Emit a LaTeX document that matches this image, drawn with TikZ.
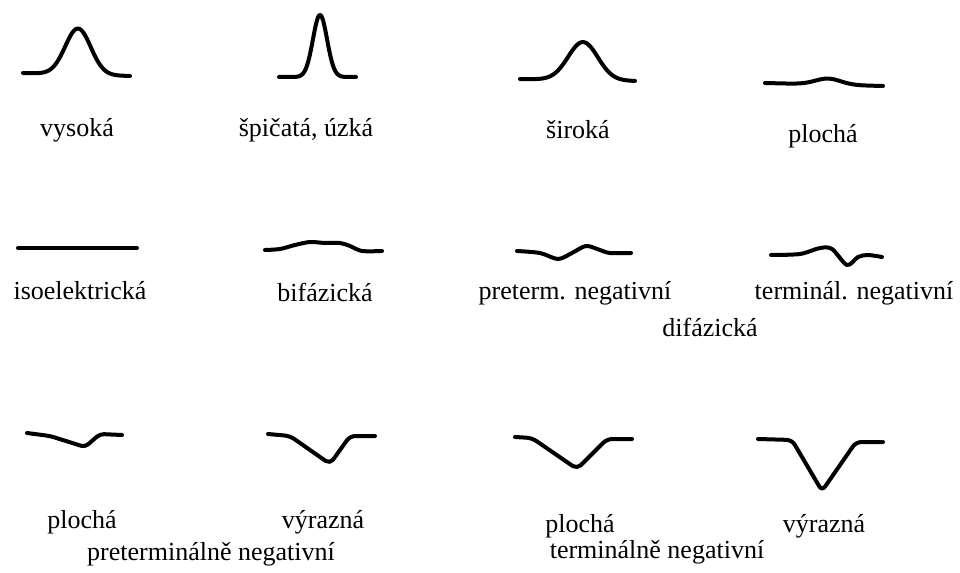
\documentclass[tikz,border=0pt]{standalone}
\usepackage{fontspec}
\setmainfont{Liberation Serif}
\begin{document}
\begin{tikzpicture}[x=0.75pt,y=-0.75pt,
  wave/.style={line width=3pt,line cap=round,line join=round},
  lbl/.style={anchor=base,inner sep=0pt,font=\fontsize{19.5}{23}\selectfont}]
\useasboundingbox (0,0) rectangle (960,573);
% row 1
\draw[wave] plot[domain=23:130,samples=90] (\x,{73+(\x-23)*3/107-46*exp(-((\x-78)/18)^2)});
\draw[wave] plot[domain=279:356,samples=90] (\x,{77-62*exp(-((\x-320)/10)^2)});
\draw[wave] plot[domain=520:635,samples=90] (\x,{79+(\x-520)*2/115-38*exp(-((\x-583)/21)^2)});
\draw[wave] plot[domain=765:883,samples=90] (\x,{83+(\x-765)*3/118-6*exp(-((\x-828)/18)^2)});
\node[lbl] (t1) at (77,137) {vysoká};
\node[lbl] (t2) at (306,137) {špičatá, úzká};
\node[lbl] (t3) at (578,139) {široká};
\node[lbl] (t4) at (823,143) {plochá};
% row 2
\draw[wave] (18,248) -- (137,248);
\draw[wave] plot[smooth,tension=0.5] coordinates {(265,250) (280,249) (295,245) (310,242) (325,243) (340,243) (350,246) (362,251) (382,251)};
\draw[wave] plot[smooth,tension=0.5] coordinates {(517,251) (540,253) (558,259) (572,253) (586,246) (600,250) (610,253) (631,253)};
\draw[wave] plot[smooth,tension=0.5] coordinates {(771,255) (800,254) (820,248) (832,249) (847,265) (858,257) (868,255) (882,257)};
\node[lbl] (t5) at (80,300) {isoelektrická};
\node[lbl] (t6) at (325,302) {bifázická};
\node[lbl] (t7) at (575,300) {preterm. negativní};
\node[lbl] (t8) at (854,300) {terminál. negativní};
\node[lbl] (t9) at (710,337) {difázická};
% row 3
\draw[wave,rounded corners=3pt] (27,433) -- (50,436) -- (85,447) -- (100,434) -- (122,435);
\draw[wave,rounded corners=4pt] (268,434) -- (290,436) -- (330,464) -- (350,436) -- (375,436);
\draw[wave,rounded corners=4pt] (515,437) -- (532,438) -- (577,469) -- (607,439) -- (632,439);
\draw[wave,rounded corners=4pt] (758,439) -- (792,440) -- (822,491) -- (856,442) -- (883,442);
\node[lbl] (t10) at (82,528) {plochá};
\node[lbl] (t11) at (323,528) {výrazná};
\node[lbl] (t12) at (211,560) {preterminálně negativní};
\node[lbl] (t13) at (580,532) {plochá};
\node[lbl] (t14) at (824,532) {výrazná};
\node[lbl] (t15) at (657,558) {terminálně negativní};
\end{tikzpicture}
\end{document}
